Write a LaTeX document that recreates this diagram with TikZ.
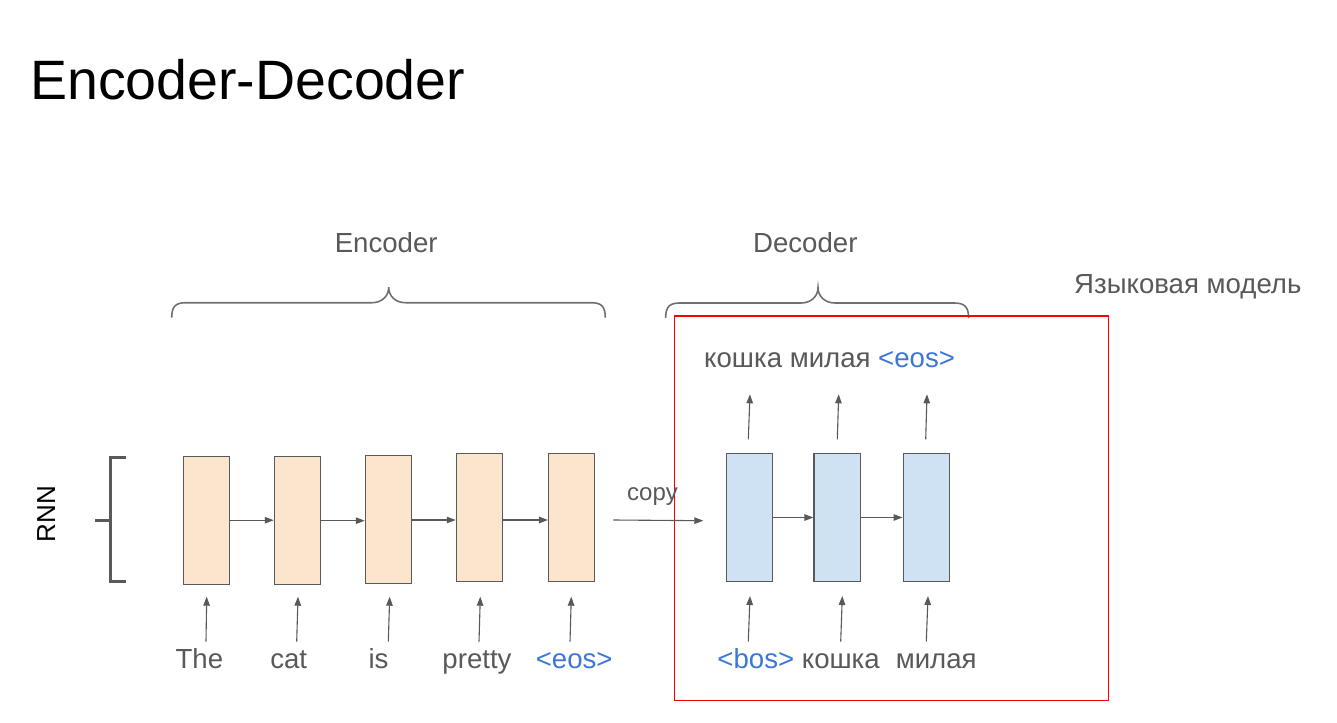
\documentclass[tikz,border=0pt]{standalone}
\usepackage{fontspec}
\setmainfont{Liberation Sans}
\usetikzlibrary{arrows.meta}
\definecolor{txt}{HTML}{595959}
\definecolor{blu}{HTML}{3C78D8}
\definecolor{encf}{HTML}{FCE5CD}
\definecolor{decf}{HTML}{CFE2F3}
\definecolor{brc}{HTML}{707070}
\newcommand{\mylbl}{\fontsize{27.6}{33}\selectfont}
\tikzset{
  encbox/.style={draw=txt, line width=1.1pt, fill=encf, minimum width=46pt, minimum height=128pt, inner sep=0pt},
  decbox/.style={draw=txt, line width=1.1pt, fill=decf, minimum width=46.5pt, minimum height=128.4pt, inner sep=0pt},
  arr/.style={draw=txt, line width=1.1pt, -{Triangle[length=9pt,width=6.5pt]}},
  word/.style={inner sep=0pt, anchor=base, text=txt, font=\mylbl},
  bword/.style={word, text=blu},
  brace/.style={draw=brc, line width=1.6pt},
}
\begin{document}
\begin{tikzpicture}[x=1pt,y=-1pt]
\useasboundingbox[fill=white] (0,0) rectangle (1337,722);

% title
\node[inner sep=0pt, anchor=base west, font=\fontsize{55.5}{66}\selectfont] (title) at (30,100) {Encoder-Decoder};

% group labels
\node[word] (enclbl) at (386.2,252.7) {Encoder};
\node[word] (declbl) at (805.3,252.7) {Decoder};
\node[inner sep=0pt, anchor=base west, text=txt, font=\mylbl] (lm) at (1074,293.3) {Языковая модель};

% braces
\draw[brace] (171.7,317.7) .. controls (171.7,306) and (176,302.7) .. (186,302.7)
  -- (372,302.7) .. controls (382,302.7) and (388.7,296) .. (388.7,287.3)
  .. controls (388.7,296) and (395.4,302.7) .. (405.4,302.7)
  -- (591,302.7) .. controls (601,302.7) and (605.3,306) .. (605.3,317.7);
\draw[brace] (665.6,318) .. controls (665.6,306.3) and (670,303) .. (680,303)
  -- (801,303) .. controls (811,303) and (818,296.3) .. (818,287.6)
  .. controls (818,296.3) and (825,303) .. (835,303)
  -- (954,303) .. controls (964,303) and (968.6,306.3) .. (968.6,318);

% red language-model box
\draw[red, line width=1.1pt] (674.4,316) rectangle (1108.5,700.5);

% RNN bracket
\node[inner sep=0pt, rotate=90, font=\fontsize{26}{31}\selectfont] (rnn) at (46.3,514) {RNN};
\draw[txt, line width=3pt] (125.7,457.3) -- (110.7,457.3) -- (110.7,581.7) -- (125.7,581.7);
\draw[txt, line width=3pt] (95,520) -- (110.7,520);

% encoder boxes
\node[encbox] (e1) at (206.3,520.2) {};
\node[encbox] (e2) at (297.3,520.2) {};
\node[encbox] (e3) at (388.3,519.2) {};
\node[encbox] (e4) at (479.3,517.3) {};
\node[encbox] (e5) at (571.5,517.3) {};

\draw[arr] (e1.east) -- (e1.east -| e2.west);
\draw[arr] ([yshift=-0.5pt]e2.east) -- ([yshift=-0.5pt]e2.east -| e3.west);
\draw[arr] ([yshift=-0.8pt]e3.east) -- ([yshift=-0.8pt]e3.east -| e4.west);
\draw[arr] ([yshift=-2.7pt]e4.east) -- ([yshift=-2.7pt]e4.east -| e5.west);

% encoder words
\node[word] (w1) at (199.4,668.3) {The};
\node[word] (w2) at (288.7,668.3) {cat};
\node[word] (w3) at (378.5,668.3) {is};
\node[word] (w4) at (477,668.3) {pretty};
\node[bword] (w5) at (574.2,668.3) {<eos>};

\coordinate (a1s) at (206,641.7); \coordinate (a1e) at (206.7,596.7);
\coordinate (a2s) at (296.7,641.7); \coordinate (a2e) at (298,596.7);
\coordinate (a3s) at (388.3,641.7); \coordinate (a3e) at (389.7,596.7);
\coordinate (a4s) at (479,641.7); \coordinate (a4e) at (480.3,596.7);
\coordinate (a5s) at (570,641.7); \coordinate (a5e) at (571.3,596.7);
\foreach \i in {1,...,5} { \draw[arr] (a\i s) -- (a\i e); }

% copy
\coordinate (cs) at (613.3,520);
\coordinate (ce) at (703.3,520.7);
\draw[arr] (cs) -- (ce);
\node[inner sep=0pt, anchor=base, text=txt, font=\fontsize{24}{29}\selectfont] (copy) at (652.5,500) {copy};

% decoder boxes
\node[decbox] (d1) at (749.3,517.5) {};
\node[decbox] (d2) at (837.2,517.5) {};
\node[decbox] (d3) at (926.3,517.5) {};
\draw[arr] (d1.east) -- (d2.west);
\draw[arr] (d2.east) -- (d3.west);

% decoder words bottom
\node[bword] (b1) at (755.8,668.3) {<bos>};
\node[word] (b2) at (840.8,668.3) {кошка};
\node[word] (b3) at (936.2,668.3) {милая};

\coordinate (b1s) at (748.3,641.7); \coordinate (b1e) at (750,596);
\coordinate (b2s) at (840.7,641.7); \coordinate (b2e) at (842.3,596);
\coordinate (b3s) at (926.3,641.7); \coordinate (b3e) at (928,596);
\foreach \i in {1,2,3} { \draw[arr] (b\i s) -- (b\i e); }

% decoder outputs
\node[inner sep=0pt, anchor=base west, text=txt, font=\mylbl] (out) at (704,367.3) {кошка милая \textcolor{blu}{<eos>}};
\coordinate (o1s) at (748.3,439.3); \coordinate (o1e) at (750,394.3);
\coordinate (o2s) at (837.3,439.3); \coordinate (o2e) at (838.7,394.3);
\coordinate (o3s) at (925.7,439.3); \coordinate (o3e) at (927,394.3);
\foreach \i in {1,2,3} { \draw[arr] (o\i s) -- (o\i e); }
\end{tikzpicture}
\end{document}
